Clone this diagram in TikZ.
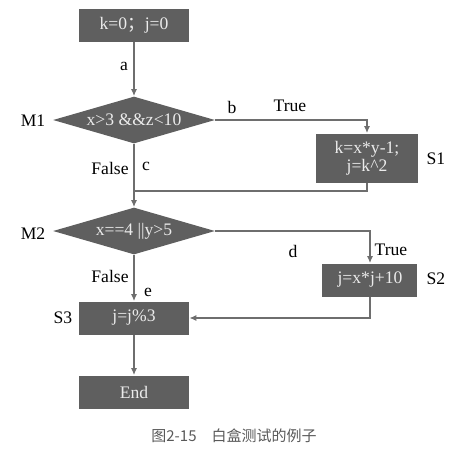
\documentclass[tikz,border=0pt]{standalone}
\usepackage{fontspec}
\setmainfont{Liberation Serif}
\newfontfamily\cjk{Noto Sans CJK SC}
\usetikzlibrary{arrows.meta,positioning,shapes.geometric}
\definecolor{boxgray}{HTML}{5F5F5F}
\definecolor{linegray}{HTML}{6E6E6E}
\tikzset{
  stepbox/.style={draw=none, fill=boxgray, text=white!92!black, minimum width=55pt, minimum height=16.5pt, inner sep=1pt, font=\fontsize{8.8}{10}\selectfont},
  testbox/.style={diamond, draw=none, fill=boxgray, text=white!92!black, aspect=3.45, inner sep=0pt, minimum width=81pt, minimum height=23.5pt, font=\fontsize{8.8}{10}\selectfont},
  lbl/.style={inner sep=0pt, font=\fontsize{8.8}{10}\selectfont},
  cline/.style={-{Latex[length=3.5pt,width=3pt]}, linegray, line width=0.6pt},
  pline/.style={linegray, line width=0.6pt},
}

\begin{document}
\begin{tikzpicture}[x=0.5pt, y=-0.5pt]
  \useasboundingbox (0,0) rectangle (463,462);

  % main column
  \node[stepbox] (start) at (134,25) {k=0{\cjk ；}j=0};
  \node[testbox] (m1) at (134,120) {x>3 \&\&z<10};
  \node[testbox] (m2) at (134,231) {x==4 ||y>5};
  \node[stepbox] (s3) at (134,318) {j=j\%3};
  \node[stepbox] (end) at (134,392) {End};

  % right branches
  \node[stepbox, minimum width=51pt, minimum height=24.5pt, align=center] (s1) at (367,158) {k=x*y-1;\\[-1pt]j=k\^{}2};
  \node[stepbox, minimum width=47.5pt] (s2) at (370,280) {j=x*j+10};
  \coordinate (j1) at (134,191);

  \draw[cline] (start) -- (m1);
  \draw[cline] (m1.east) -| (s1.north);
  \draw[pline] (s1.south) |- (j1);
  \draw[cline] (m1) -- (m2);
  \draw[cline] (m2.east) -| (s2.north);
  \draw[cline] (s2.south) |- (s3.east);
  \draw[cline] (m2) -- (s3);
  \draw[cline] (s3) -- (end);

  % labels
  \node[lbl] (la) at (124,66) {a};
  \node[lbl] (lb) at (232,107) {b};
  \node[lbl] (lt1) at (290,106) {True};
  \node[lbl] (lf1) at (110,168) {False};
  \node[lbl] (lc) at (146,166) {c};
  \node[lbl] (ld) at (293,251) {d};
  \node[lbl] (lt2) at (391,250) {True};
  \node[lbl] (lf2) at (110,276) {False};
  \node[lbl] (le) at (148,292) {e};
  \node[lbl] (nm1) at (33,121) {M1};
  \node[lbl] (nm2) at (33,234) {M2};
  \node[lbl] (ns1) at (436,159) {S1};
  \node[lbl] (ns2) at (436,279) {S2};
  \node[lbl] (ns3) at (63,318) {S3};

  \node[inner sep=0pt, text=black!65, font=\cjk\fontsize{7.5}{9}\selectfont] (cap) at (234,436) {图2-15　白盒测试的例子};
\end{tikzpicture}
\end{document}
